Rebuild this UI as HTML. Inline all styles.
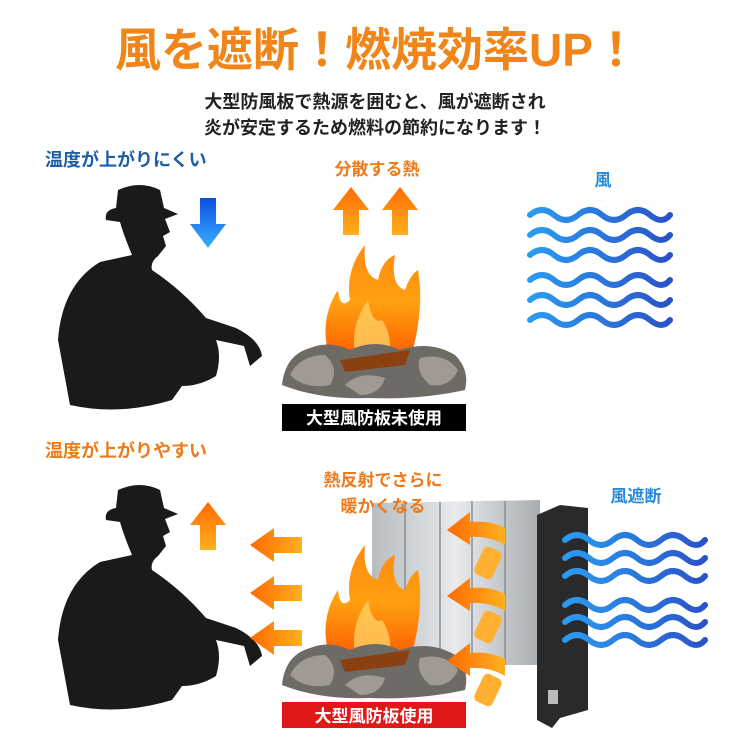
<!DOCTYPE html>
<html><head><meta charset="utf-8"><style>
body{margin:0;width:750px;height:750px;background:#fff;overflow:hidden}
svg{display:block}
text{font-family:"Liberation Sans","Noto Sans CJK JP",sans-serif;font-weight:bold}
</style></head><body>
<svg width="750" height="750" viewBox="0 0 750 750" xmlns="http://www.w3.org/2000/svg">
<defs>
<linearGradient id="ob" x1="0" y1="1" x2="0" y2="0"><stop offset="0" stop-color="#ffb020"/><stop offset="1" stop-color="#ff6a00"/></linearGradient>
<linearGradient id="ol" x1="1" y1="0" x2="0" y2="0"><stop offset="0" stop-color="#ffb020"/><stop offset="1" stop-color="#ff6a00"/></linearGradient>
<linearGradient id="bd" x1="0" y1="0" x2="0" y2="1"><stop offset="0" stop-color="#0a4fe0"/><stop offset="1" stop-color="#3ab0ff"/></linearGradient>
<linearGradient id="wv" x1="0" y1="0" x2="1" y2="0"><stop offset="0" stop-color="#2a9cf0"/><stop offset="1" stop-color="#2a52c8"/></linearGradient>
<linearGradient id="fl" x1="0" y1="1" x2="0" y2="0"><stop offset="0" stop-color="#ff5a00"/><stop offset=".5" stop-color="#ffa010"/><stop offset="1" stop-color="#ff8a10"/></linearGradient>
<linearGradient id="sil" x1="0" y1="0" x2="1" y2="0"><stop offset="0" stop-color="#b8bcc0"/><stop offset=".5" stop-color="#e8eaec"/><stop offset="1" stop-color="#a8acb0"/></linearGradient>
<g id="man"><path fill="#1a1a1a" d="M70 405 L58 340 Q62 285 100 262 L132 255 Q124 236 120 222 L106 220 Q104 210 116 208 L118 190 Q140 180 160 190 L164 208 L178 214 L165 219 L170 232 L163 236 L166 246 L158 256 Q150 262 152 270 Q182 290 206 318 L236 328 Q260 340 262 356 L250 366 L244 346 L216 340 Q222 356 216 376 Q200 386 182 386 L172 400 Q120 416 70 405 Z"/></g>
<g id="fire">
<path fill="url(#fl)" d="M330 360 Q318 320 338 290 Q340 310 350 300 Q345 270 365 245 Q362 275 378 280 Q382 260 395 255 Q390 285 405 290 Q410 275 418 270 Q425 310 410 360 Z"/>
<path fill="#ffd060" opacity=".8" d="M355 355 Q350 325 368 300 Q372 325 382 320 Q392 335 390 355 Z"/>
<path fill="#6e6a66" d="M282 385 Q285 355 310 348 Q330 340 350 350 Q375 338 400 350 Q430 340 455 355 Q470 370 465 390 Q420 400 370 398 Q320 400 282 385 Z"/>
<path fill="#a09a92" d="M290 375 Q300 355 325 355 Q340 368 330 385 Q305 390 290 375 Z M420 358 Q445 352 458 370 Q450 388 430 385 Q415 372 420 358 Z M345 385 Q360 370 385 378 Q380 395 360 395 Z"/>
<path fill="#8a4010" d="M340 360 L410 350 L405 365 L345 372 Z"/>
</g>
</defs>

<text x="377" y="66" font-size="46" fill="#f0861a" text-anchor="middle">風を遮断！燃焼効率UP！</text>
<text x="375" y="108" font-size="18" fill="#222" text-anchor="middle" font-weight="normal">大型防風板で熱源を囲むと、風が遮断され</text>
<text x="375" y="134" font-size="18" fill="#222" text-anchor="middle" font-weight="normal">炎が安定するため燃料の節約になります！</text>

<text x="45" y="166" font-size="18" fill="#1d5ea6">温度が上がりにくい</text>
<use href="#man"/>
<path fill="url(#bd)" d="M200 198 L216 198 L216 224 L226 224 L208 248 L190 224 L200 224 Z"/>
<text x="377" y="175" font-size="17" fill="#ee7a1a" text-anchor="middle">分散する熱</text>
<path fill="url(#ob)" d="M343 235 L343 210 L333 210 L351 187 L369 210 L359 210 L359 235 Z"/>
<path fill="url(#ob)" d="M392 235 L392 210 L382 210 L400 187 L418 210 L408 210 L408 235 Z"/>
<use href="#fire"/>
<rect x="282" y="404" width="184" height="27" fill="#000"/>
<text x="374" y="424" font-size="17" fill="#fff" text-anchor="middle">大型風防板未使用</text>

<text x="603" y="186" font-size="17" fill="#2a8ad8" text-anchor="middle">風</text>
<g fill="none" stroke="url(#wv)" stroke-width="6" stroke-linecap="round">
<path d="M530 215 q12 -10 24 0 t24 0 t24 0 t24 0 t24 0 t20 0"/>
<path d="M530 235 q12 -10 24 0 t24 0 t24 0 t24 0 t24 0 t20 0"/>
<path d="M530 255 q12 -10 24 0 t24 0 t24 0 t24 0 t24 0 t20 0"/>
<path d="M530 280 q12 -10 24 0 t24 0 t24 0 t24 0 t24 0 t20 0"/>
<path d="M530 300 q12 -10 24 0 t24 0 t24 0 t24 0 t24 0 t20 0"/>
<path d="M530 320 q12 -10 24 0 t24 0 t24 0 t24 0 t24 0 t20 0"/>
</g>

<text x="45" y="457" font-size="18" fill="#ee7a1a">温度が上がりやすい</text>
<use href="#man" transform="translate(0,300)"/>
<path fill="url(#ob)" d="M200 550 L200 525 L190 525 L208 502 L226 525 L216 525 L216 550 Z"/>
<g fill="url(#ol)">
<path d="M302 537 L274 537 L274 528 L250 545 L274 562 L274 553 L302 553 Z"/>
<path d="M302 585 L274 585 L274 576 L250 593 L274 610 L274 601 L302 601 Z"/>
<path d="M302 630 L274 630 L274 621 L250 638 L274 655 L274 646 L302 646 Z"/>
</g>

<polygon points="372,503 540,500 540,665 372,665" fill="url(#sil)"/>
<g stroke="#8a8e92" stroke-width="1.5"><line x1="405" y1="503" x2="405" y2="665"/><line x1="440" y1="502" x2="440" y2="665"/><line x1="472" y1="501" x2="472" y2="665"/><line x1="505" y1="501" x2="505" y2="665"/></g>
<polygon points="537,515 560,505 588,508 588,710 560,718 552,728 537,720" fill="#2a2a2c"/>
<rect x="548" y="690" width="10" height="14" fill="#bbb"/>

<text x="383" y="486" font-size="17" fill="#ee7a1a" text-anchor="middle">熱反射でさらに</text>
<text x="383" y="512" font-size="17" fill="#ee7a1a" text-anchor="middle">暖かくなる</text>

<use href="#fire" transform="translate(0,300)"/>
<rect x="282" y="702" width="184" height="26" fill="#e01818"/>
<text x="374" y="722" font-size="17" fill="#fff" text-anchor="middle">大型風防板使用</text>

<g fill="url(#ol)">
<path d="M505 528 Q490 520 470 522 L470 512 L447 530 L470 545 L470 537 Q490 536 505 545 Z"/>
<path d="M505 594 Q490 586 470 588 L470 578 L447 596 L470 611 L470 603 Q490 602 505 611 Z"/>
<path d="M505 659 Q490 651 470 653 L470 643 L447 661 L470 676 L470 668 Q490 667 505 676 Z"/>
</g>
<g fill="#ffb030">
<rect x="478" y="548" width="20" height="30" rx="5" transform="rotate(25 488 563)"/>
<rect x="478" y="612" width="20" height="30" rx="5" transform="rotate(25 488 627)"/>
<rect x="478" y="675" width="20" height="30" rx="5" transform="rotate(25 488 690)"/>
</g>

<text x="636" y="502" font-size="17" fill="#2a8ad8" text-anchor="middle">風遮断</text>
<g fill="none" stroke="url(#wv)" stroke-width="6" stroke-linecap="round">
<path d="M565 540 q12 -10 24 0 t24 0 t24 0 t24 0 t24 0 t20 0"/>
<path d="M565 558 q12 -10 24 0 t24 0 t24 0 t24 0 t24 0 t20 0"/>
<path d="M565 576 q12 -10 24 0 t24 0 t24 0 t24 0 t24 0 t20 0"/>
<path d="M565 605 q12 -10 24 0 t24 0 t24 0 t24 0 t24 0 t20 0"/>
<path d="M565 622 q12 -10 24 0 t24 0 t24 0 t24 0 t24 0 t20 0"/>
<path d="M565 640 q12 -10 24 0 t24 0 t24 0 t24 0 t24 0 t20 0"/>
</g>
</svg>
</body></html>
